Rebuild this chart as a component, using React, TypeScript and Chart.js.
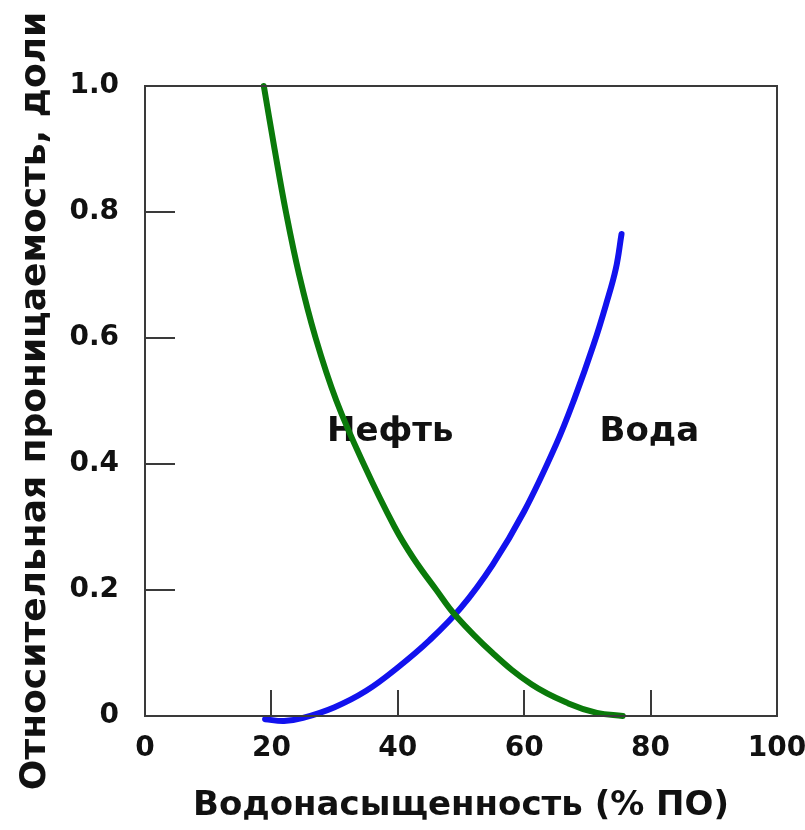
import React, { useEffect, useRef } from 'react';
import { Chart, registerables } from 'chart.js';

Chart.register(...registerables);

// Oil (Нефть) relative permeability curve
const oilX = [18.8, 20.5, 22.3, 24.4, 27.0, 30.3, 34.6, 39.5, 42.5, 46.1, 49.1, 55.0, 61.2, 67.0, 71.5, 75.6];
const oilY = [1.0, 0.9, 0.8, 0.7, 0.6, 0.5, 0.4, 0.3, 0.25, 0.2, 0.16, 0.1, 0.05, 0.02, 0.005, 0.0];

// Water (Вода) relative permeability curve
const waterX = [19.0, 22.0, 25.0, 30.0, 35.0, 40.0, 45.0, 50.0, 55.0, 60.0, 65.0, 68.0, 71.0, 73.0, 74.5, 75.4];
const waterY = [-0.005, -0.008, -0.003, 0.014, 0.04, 0.077, 0.12, 0.172, 0.24, 0.325, 0.43, 0.505, 0.59, 0.655, 0.71, 0.765];

const xTickValues = [0, 20, 40, 60, 80, 100];
const xTickLabels = ['0', '20', '40', '60', '80', '100'];
const yTickValues = [0, 0.2, 0.4, 0.6, 0.8, 1.0];
const yTickLabels = ['0', '0.2', '0.4', '0.6', '0.8', '1.0'];

const xTitle = 'Водонасыщенность (% ПО)';
const yTitle = 'Относительная проницаемость, доли';

const curveLabels = ['Нефть', 'Вода'];
const curveLabelX = [38.8, 79.8];
const curveLabelY = [0.45, 0.45];

const FONT = '"DejaVu Sans", "Liberation Sans", Arial, sans-serif';
const TEXT = '#111111';

const framePlugin = {
  id: 'frame',
  beforeDatasetsDraw(chart: any) {
    const { ctx, scales } = chart;
    ctx.save();
    ctx.font = `bold 34px ${FONT}`;
    ctx.fillStyle = TEXT;
    ctx.textAlign = 'center';
    ctx.textBaseline = 'middle';
    curveLabels.forEach((s, i) => {
      ctx.fillText(s, scales.x.getPixelForValue(curveLabelX[i]), scales.y.getPixelForValue(curveLabelY[i]));
    });
    ctx.restore();
  },
  afterDraw(chart: any) {
    const { ctx, chartArea: a, scales } = chart;
    ctx.save();
    ctx.strokeStyle = '#3a3a3a';
    ctx.lineWidth = 2;
    ctx.strokeRect(a.left, a.top, a.right - a.left, a.bottom - a.top);
    ctx.beginPath();
    scales.x.ticks.forEach((t: any) => {
      const px = Math.round(scales.x.getPixelForValue(t.value));
      ctx.moveTo(px, a.bottom);
      ctx.lineTo(px, a.bottom - 26);
    });
    scales.y.ticks.forEach((t: any) => {
      const py = Math.round(scales.y.getPixelForValue(t.value));
      ctx.moveTo(a.left, py);
      ctx.lineTo(a.left + 30, py);
    });
    ctx.stroke();
    ctx.restore();
  },
};

export default function App() {
  const canvasRef = useRef<HTMLCanvasElement | null>(null);

  useEffect(() => {
    if (!canvasRef.current) return;
    const chart = new Chart(canvasRef.current, {
      type: 'line',
      data: {
        datasets: [
          {
            label: 'Нефть',
            data: oilX.map((x, i) => ({ x, y: oilY[i] })),
            borderColor: '#0a7a0a',
            borderWidth: 6,
            pointRadius: 0,
            tension: 0.4,
            borderCapStyle: 'round',
            clip: false,
          },
          {
            label: 'Вода',
            data: waterX.map((x, i) => ({ x, y: waterY[i] })),
            borderColor: '#1212ee',
            borderWidth: 6,
            pointRadius: 0,
            tension: 0.4,
            borderCapStyle: 'round',
            clip: false,
          },
        ],
      },
      options: {
        responsive: false,
        maintainAspectRatio: false,
        animation: false,
        devicePixelRatio: 1,
        layout: { padding: { top: 86, right: 28, left: 0, bottom: 0 } },
        plugins: { legend: { display: false }, tooltip: { enabled: false } },
        scales: {
          x: {
            type: 'linear',
            min: 0,
            max: 100,
            afterBuildTicks: (scale: any) => {
              scale.ticks = xTickValues.map((v) => ({ value: v }));
            },
            afterFit: (scale: any) => {
              scale.height = 114;
              scale.paddingLeft = 0;
              scale.paddingRight = 0;
            },
            grid: { display: false, drawTicks: false },
            border: { display: false },
            ticks: {
              padding: 16,
              color: TEXT,
              maxRotation: 0,
              font: { family: FONT, size: 28, weight: 'bold' },
              callback: (v: any) => xTickLabels[xTickValues.indexOf(Number(v))] ?? '',
            },
            title: {
              display: true,
              text: xTitle,
              color: TEXT,
              padding: { top: 0, bottom: 3 },
              font: { family: FONT, size: 34, weight: 'bold' },
            },
          },
          y: {
            type: 'linear',
            min: 0,
            max: 1,
            afterBuildTicks: (scale: any) => {
              scale.ticks = yTickValues.map((v) => ({ value: v }));
            },
            afterFit: (scale: any) => {
              scale.width = 145;
              scale.paddingTop = 0;
              scale.paddingBottom = 0;
            },
            grid: { display: false, drawTicks: false },
            border: { display: false },
            ticks: {
              padding: 26,
              color: TEXT,
              font: { family: FONT, size: 28, weight: 'bold' },
              callback: (v: any) => {
                const i = yTickValues.findIndex((t) => Math.abs(t - Number(v)) < 1e-9);
                return i >= 0 ? yTickLabels[i] : '';
              },
            },
            title: {
              display: true,
              text: yTitle,
              color: TEXT,
              padding: { top: 14, bottom: 0 },
              font: { family: FONT, size: 36, weight: 'bold' },
            },
          },
        },
      },
      plugins: [framePlugin],
    } as any);
    return () => chart.destroy();
  }, []);

  return (
    <div style={{ position: 'fixed', left: 0, top: 0, width: 805, height: 830, background: '#ffffff' }}>
      <canvas ref={canvasRef} width={805} height={830} style={{ display: 'block' }} />
    </div>
  );
}
